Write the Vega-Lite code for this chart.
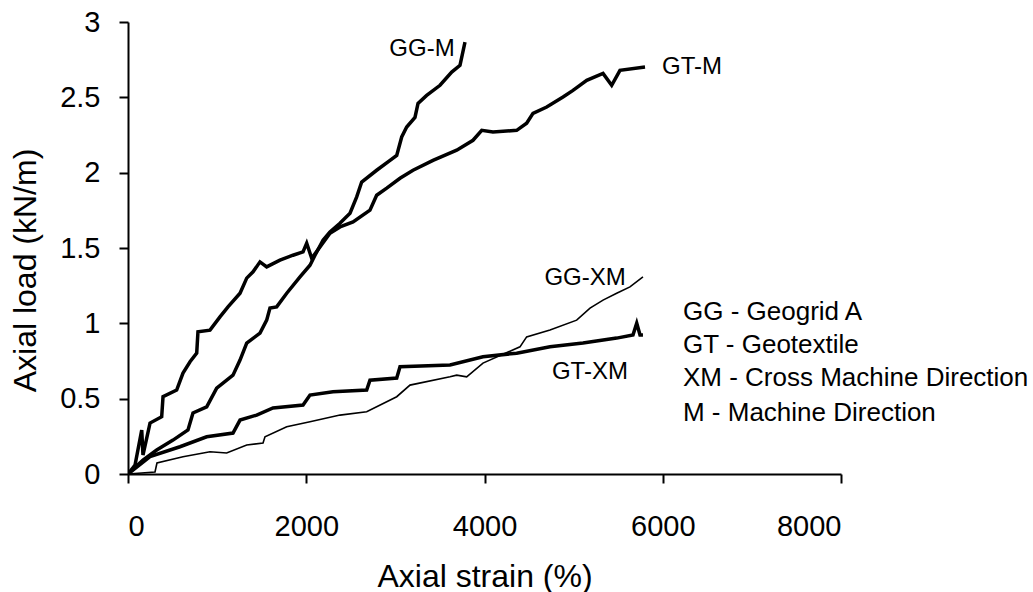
{
  "$schema": "https://vega.github.io/schema/vega-lite/v6.json",
  "autosize": "none",
  "width": 713,
  "height": 452,
  "padding": {"left": 128, "top": 22, "right": 192, "bottom": 118},
  "background": "white",
  "config": {
    "view": {"stroke": null},
    "font": "Liberation Sans",
    "axis": {
      "grid": false,
      "domainColor": "black",
      "domainWidth": 2,
      "tickColor": "black",
      "tickWidth": 2,
      "tickSize": 9,
      "labelColor": "black",
      "labelFont": "Liberation Sans",
      "labelFontSize": 29,
      "titleFont": "Liberation Sans",
      "titleFontSize": 32,
      "titleFontWeight": "normal",
      "titleColor": "black"
    }
  },
  "datasets": {
    "curves": [
      {"series": "GG-M", "strain": 0, "load": 0},
      {"series": "GG-M", "strain": 168, "load": 0.093},
      {"series": "GG-M", "strain": 322, "load": 0.159},
      {"series": "GG-M", "strain": 505, "load": 0.225},
      {"series": "GG-M", "strain": 673, "load": 0.292},
      {"series": "GG-M", "strain": 729, "load": 0.405},
      {"series": "GG-M", "strain": 883, "load": 0.446},
      {"series": "GG-M", "strain": 995, "load": 0.570},
      {"series": "GG-M", "strain": 1178, "load": 0.656},
      {"series": "GG-M", "strain": 1257, "load": 0.756},
      {"series": "GG-M", "strain": 1332, "load": 0.869},
      {"series": "GG-M", "strain": 1481, "load": 0.935},
      {"series": "GG-M", "strain": 1556, "load": 1.021},
      {"series": "GG-M", "strain": 1593, "load": 1.101},
      {"series": "GG-M", "strain": 1668, "load": 1.109},
      {"series": "GG-M", "strain": 1781, "load": 1.200},
      {"series": "GG-M", "strain": 1930, "load": 1.308},
      {"series": "GG-M", "strain": 2042, "load": 1.386},
      {"series": "GG-M", "strain": 2098, "load": 1.452},
      {"series": "GG-M", "strain": 2188, "load": 1.552},
      {"series": "GG-M", "strain": 2266, "load": 1.607},
      {"series": "GG-M", "strain": 2378, "load": 1.664},
      {"series": "GG-M", "strain": 2491, "load": 1.731},
      {"series": "GG-M", "strain": 2566, "load": 1.839},
      {"series": "GG-M", "strain": 2622, "load": 1.938},
      {"series": "GG-M", "strain": 2790, "load": 2.016},
      {"series": "GG-M", "strain": 2940, "load": 2.082},
      {"series": "GG-M", "strain": 3015, "load": 2.115},
      {"series": "GG-M", "strain": 3071, "load": 2.237},
      {"series": "GG-M", "strain": 3127, "load": 2.303},
      {"series": "GG-M", "strain": 3220, "load": 2.367},
      {"series": "GG-M", "strain": 3254, "load": 2.460},
      {"series": "GG-M", "strain": 3351, "load": 2.513},
      {"series": "GG-M", "strain": 3501, "load": 2.580},
      {"series": "GG-M", "strain": 3632, "load": 2.668},
      {"series": "GG-M", "strain": 3725, "load": 2.712},
      {"series": "GG-M", "strain": 3781, "load": 2.867},

      {"series": "GT-M", "strain": 0, "load": 0},
      {"series": "GT-M", "strain": 79, "load": 0.06},
      {"series": "GT-M", "strain": 154, "load": 0.292},
      {"series": "GT-M", "strain": 168, "load": 0.126},
      {"series": "GT-M", "strain": 247, "load": 0.338},
      {"series": "GT-M", "strain": 378, "load": 0.380},
      {"series": "GT-M", "strain": 393, "load": 0.513},
      {"series": "GT-M", "strain": 546, "load": 0.557},
      {"series": "GT-M", "strain": 617, "load": 0.670},
      {"series": "GT-M", "strain": 696, "load": 0.745},
      {"series": "GT-M", "strain": 771, "load": 0.802},
      {"series": "GT-M", "strain": 785, "load": 0.944},
      {"series": "GT-M", "strain": 920, "load": 0.955},
      {"series": "GT-M", "strain": 1032, "load": 1.043},
      {"series": "GT-M", "strain": 1122, "load": 1.109},
      {"series": "GT-M", "strain": 1257, "load": 1.200},
      {"series": "GT-M", "strain": 1332, "load": 1.300},
      {"series": "GT-M", "strain": 1403, "load": 1.342},
      {"series": "GT-M", "strain": 1481, "load": 1.408},
      {"series": "GT-M", "strain": 1556, "load": 1.375},
      {"series": "GT-M", "strain": 1705, "load": 1.419},
      {"series": "GT-M", "strain": 1851, "load": 1.452},
      {"series": "GT-M", "strain": 1964, "load": 1.474},
      {"series": "GT-M", "strain": 2005, "load": 1.532},
      {"series": "GT-M", "strain": 2061, "load": 1.432},
      {"series": "GT-M", "strain": 2154, "load": 1.507},
      {"series": "GT-M", "strain": 2266, "load": 1.598},
      {"series": "GT-M", "strain": 2379, "load": 1.640},
      {"series": "GT-M", "strain": 2525, "load": 1.673},
      {"series": "GT-M", "strain": 2715, "load": 1.751},
      {"series": "GT-M", "strain": 2790, "load": 1.850},
      {"series": "GT-M", "strain": 2903, "load": 1.897},
      {"series": "GT-M", "strain": 3052, "load": 1.963},
      {"series": "GT-M", "strain": 3198, "load": 2.016},
      {"series": "GT-M", "strain": 3422, "load": 2.082},
      {"series": "GT-M", "strain": 3688, "load": 2.149},
      {"series": "GT-M", "strain": 3871, "load": 2.215},
      {"series": "GT-M", "strain": 3969, "load": 2.281},
      {"series": "GT-M", "strain": 4095, "load": 2.270},
      {"series": "GT-M", "strain": 4361, "load": 2.281},
      {"series": "GT-M", "strain": 4473, "load": 2.328},
      {"series": "GT-M", "strain": 4544, "load": 2.394},
      {"series": "GT-M", "strain": 4698, "load": 2.436},
      {"series": "GT-M", "strain": 4881, "load": 2.502},
      {"series": "GT-M", "strain": 4993, "load": 2.546},
      {"series": "GT-M", "strain": 5147, "load": 2.613},
      {"series": "GT-M", "strain": 5330, "load": 2.659},
      {"series": "GT-M", "strain": 5427, "load": 2.580},
      {"series": "GT-M", "strain": 5520, "load": 2.679},
      {"series": "GT-M", "strain": 5801, "load": 2.701},

      {"series": "GT-XM", "strain": 0, "load": 0},
      {"series": "GT-XM", "strain": 247, "load": 0.115},
      {"series": "GT-XM", "strain": 583, "load": 0.181},
      {"series": "GT-XM", "strain": 883, "load": 0.247},
      {"series": "GT-XM", "strain": 1178, "load": 0.272},
      {"series": "GT-XM", "strain": 1257, "load": 0.358},
      {"series": "GT-XM", "strain": 1444, "load": 0.391},
      {"series": "GT-XM", "strain": 1627, "load": 0.438},
      {"series": "GT-XM", "strain": 1964, "load": 0.458},
      {"series": "GT-XM", "strain": 2042, "load": 0.524},
      {"series": "GT-XM", "strain": 2300, "load": 0.546},
      {"series": "GT-XM", "strain": 2678, "load": 0.557},
      {"series": "GT-XM", "strain": 2715, "load": 0.623},
      {"series": "GT-XM", "strain": 3015, "load": 0.637},
      {"series": "GT-XM", "strain": 3052, "load": 0.712},
      {"series": "GT-XM", "strain": 3613, "load": 0.723},
      {"series": "GT-XM", "strain": 3983, "load": 0.778},
      {"series": "GT-XM", "strain": 4361, "load": 0.802},
      {"series": "GT-XM", "strain": 4735, "load": 0.844},
      {"series": "GT-XM", "strain": 5105, "load": 0.869},
      {"series": "GT-XM", "strain": 5483, "load": 0.902},
      {"series": "GT-XM", "strain": 5666, "load": 0.922},
      {"series": "GT-XM", "strain": 5708, "load": 1.001},
      {"series": "GT-XM", "strain": 5745, "load": 0.922},
      {"series": "GT-XM", "strain": 5778, "load": 0.922},

      {"series": "GG-XM", "strain": 0, "load": 0},
      {"series": "GG-XM", "strain": 303, "load": 0.013},
      {"series": "GG-XM", "strain": 325, "load": 0.073},
      {"series": "GG-XM", "strain": 617, "load": 0.115},
      {"series": "GG-XM", "strain": 920, "load": 0.148},
      {"series": "GG-XM", "strain": 1107, "load": 0.139},
      {"series": "GG-XM", "strain": 1332, "load": 0.192},
      {"series": "GG-XM", "strain": 1515, "load": 0.206},
      {"series": "GG-XM", "strain": 1537, "load": 0.247},
      {"series": "GG-XM", "strain": 1781, "load": 0.314},
      {"series": "GG-XM", "strain": 2042, "load": 0.347},
      {"series": "GG-XM", "strain": 2379, "load": 0.391},
      {"series": "GG-XM", "strain": 2678, "load": 0.413},
      {"series": "GG-XM", "strain": 3015, "load": 0.513},
      {"series": "GG-XM", "strain": 3164, "load": 0.590},
      {"series": "GG-XM", "strain": 3613, "load": 0.645},
      {"series": "GG-XM", "strain": 3688, "load": 0.656},
      {"series": "GG-XM", "strain": 3800, "load": 0.645},
      {"series": "GG-XM", "strain": 3983, "load": 0.736},
      {"series": "GG-XM", "strain": 4398, "load": 0.844},
      {"series": "GG-XM", "strain": 4473, "load": 0.910},
      {"series": "GG-XM", "strain": 4735, "load": 0.955},
      {"series": "GG-XM", "strain": 5034, "load": 1.021},
      {"series": "GG-XM", "strain": 5184, "load": 1.101},
      {"series": "GG-XM", "strain": 5330, "load": 1.154},
      {"series": "GG-XM", "strain": 5483, "load": 1.200},
      {"series": "GG-XM", "strain": 5632, "load": 1.242},
      {"series": "GG-XM", "strain": 5778, "load": 1.308}
    ],
    "curveLabels": [
      {"label": "GG-M", "strain": 3299, "load": 2.818},
      {"label": "GT-M", "strain": 6328, "load": 2.699},
      {"label": "GG-XM", "strain": 5128, "load": 1.300},
      {"label": "GT-XM", "strain": 5183, "load": 0.676}
    ],
    "legendText": [
      {"text": "GG - Geogrid A", "strain": 6227, "load": 1.074},
      {"text": "GT - Geotextile", "strain": 6227, "load": 0.855},
      {"text": "XM - Cross Machine Direction", "strain": 6227, "load": 0.637},
      {"text": "M - Machine Direction", "strain": 6227, "load": 0.405}
    ]
  },
  "layer": [
    {
      "data": {"name": "curves"},
      "transform": [{"filter": "datum.series !== 'GG-XM'"}],
      "mark": {"type": "line", "color": "black", "strokeWidth": 3.5, "strokeJoin": "miter", "clip": true},
      "encoding": {
        "x": {
          "field": "strain", "type": "quantitative",
          "scale": {"domain": [0, 8000], "nice": false},
          "axis": {"title": "Axial strain (%)", "values": [0, 2000, 4000, 6000, 8000], "format": "d", "labelPadding": 29, "titleY": 102, "titleBaseline": "middle"}
        },
        "y": {
          "field": "load", "type": "quantitative",
          "scale": {"domain": [0, 3], "nice": false},
          "axis": {"title": "Axial load (kN/m)", "values": [0, 0.5, 1, 1.5, 2, 2.5, 3], "format": "~g", "labelPadding": 19, "titleX": -103, "titleY": 248, "titleAngle": 270, "titleAlign": "center", "titleBaseline": "middle"}
        },
        "detail": {"field": "series"}
      }
    },
    {
      "data": {"name": "curves"},
      "transform": [{"filter": "datum.series === 'GG-XM'"}],
      "mark": {"type": "line", "color": "black", "strokeWidth": 1.6},
      "encoding": {
        "x": {"field": "strain", "type": "quantitative"},
        "y": {"field": "load", "type": "quantitative"}
      }
    },
    {
      "data": {"name": "curveLabels"},
      "mark": {"type": "text", "font": "Liberation Sans", "fontSize": 24, "color": "black", "align": "center", "baseline": "middle"},
      "encoding": {
        "x": {"field": "strain", "type": "quantitative"},
        "y": {"field": "load", "type": "quantitative"},
        "text": {"field": "label"}
      }
    },
    {
      "data": {"name": "legendText"},
      "mark": {"type": "text", "font": "Liberation Sans", "fontSize": 26, "color": "black", "align": "left", "baseline": "middle"},
      "encoding": {
        "x": {"field": "strain", "type": "quantitative"},
        "y": {"field": "load", "type": "quantitative"},
        "text": {"field": "text"}
      }
    }
  ]
}
